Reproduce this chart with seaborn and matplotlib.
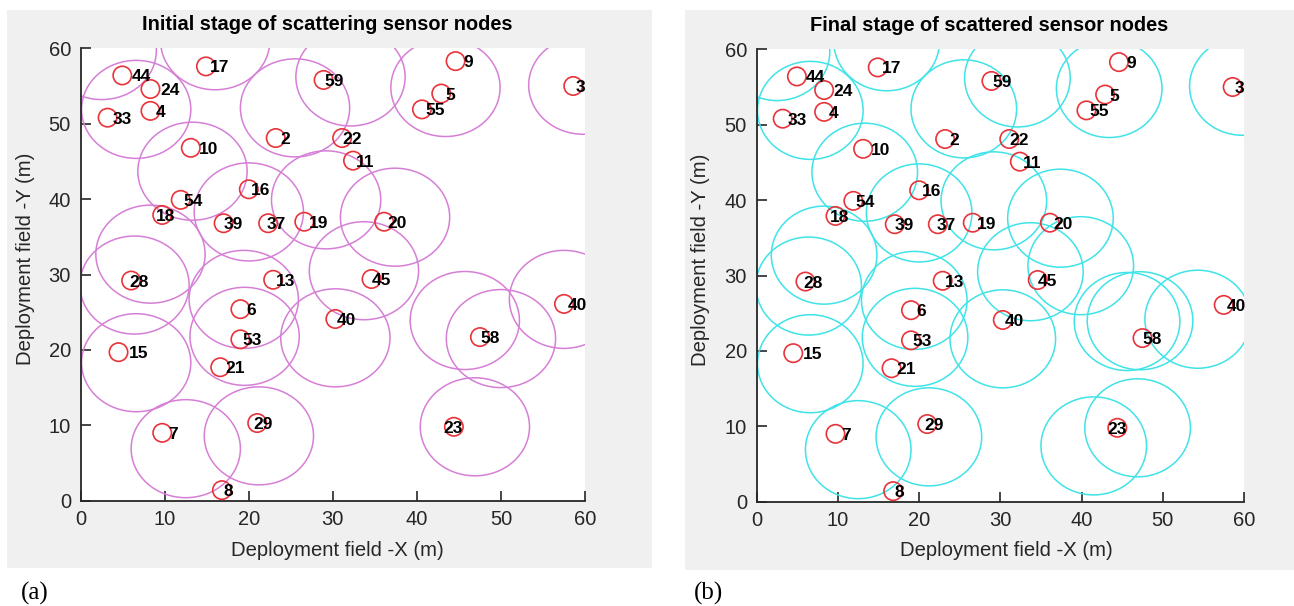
import numpy as np
import pandas as pd
import matplotlib
matplotlib.use("Agg")
import matplotlib.pyplot as plt
import seaborn as sns
from matplotlib.patches import Circle, Rectangle

# ---------------- data ----------------
node_ids = [44, 24, 4, 33, 17, 10, 2, 16, 54, 18, 39, 37, 19, 28, 13, 6, 53, 21, 15, 7,
            29, 8, 59, 9, 5, 55, 3, 22, 11, 20, 45, 40, 40, 58, 23]
node_x = [4.95, 8.3, 8.3, 3.2, 14.9, 13.1, 23.2, 20.0, 11.9, 9.7, 17.0, 22.3, 26.6, 6.0, 22.9,
          19.0, 19.0, 16.6, 4.5, 9.7, 21.0, 16.8, 28.9, 44.6, 42.9, 40.6, 58.6, 31.1, 32.4,
          36.1, 34.6, 30.3, 57.5, 47.5, 44.4]
node_y = [56.4, 54.6, 51.7, 50.8, 57.6, 46.8, 48.1, 41.3, 39.9, 37.9, 36.8, 36.8, 37.0, 29.2, 29.3,
          25.4, 21.4, 17.7, 19.7, 9.0, 10.3, 1.4, 55.8, 58.3, 54.0, 51.9, 55.0, 48.1, 45.1,
          37.0, 29.4, 24.1, 26.1, 21.7, 9.8]

# coverage circles, initial stage
init_cx = [6.6, 2.5, 16.0, 25.5, 32.1, 43.4, 59.8, 13.3, 20.0, 29.2, 37.4, 33.7, 30.3,
           45.7, 50.0, 57.5, 46.9, 8.3, 6.4, 6.6, 19.5, 19.4, 12.5, 21.2]
init_cy = [51.9, 59.7, 61.0, 52.1, 56.2, 54.8, 55.1, 43.7, 38.3, 39.9, 37.6, 30.5, 21.6,
           23.9, 21.5, 26.7, 9.8, 32.7, 28.6, 18.3, 21.8, 26.7, 6.9, 8.6]
# coverage circles, final stage
final_cx = [6.6, 2.5, 16.0, 25.5, 32.1, 43.4, 59.8, 13.3, 20.0, 29.2, 37.4, 39.9, 33.7, 30.3,
            45.6, 47.2, 54.3, 41.5, 46.9, 8.3, 6.4, 6.6, 19.5, 19.4, 12.5, 21.2]
final_cy = [51.9, 59.7, 61.0, 52.1, 56.2, 54.8, 55.1, 43.7, 38.3, 39.9, 37.6, 31.3, 30.5, 21.6,
            23.9, 24.0, 24.2, 7.4, 9.8, 32.7, 28.6, 18.3, 21.8, 26.7, 6.9, 8.6]
coverage_radius = 6.5

titles = ["Initial stage of scattering sensor nodes", "Final stage of scattered sensor nodes"]
xlabel = "Deployment field -X (m)"
ylabel = "Deployment field -Y (m)"
panel_tags = ["(a)", "(b)"]
ticks = [0, 10, 20, 30, 40, 50, 60]

# label placement offsets (styling only), one per node label
label_dx = [1.1, 1.2, 0.6, 0.55, 0.5, 1.0, 0.55, 0.3, 0.3, -0.7, 0.0, -0.2, 0.5, -0.2, 0.3,
            0.7, 0.2, 0.6, 1.2, 0.7, -0.4, 0.2, 0.1, 0.9, 0.55, 0.4, 0.3, 0.0, 0.35,
            0.4, 0.0, 0.2, 0.4, 0.0, -1.2]

# ---------------- style ----------------
sns.set_theme(style="ticks")
plt.rcParams["font.family"] = ["Liberation Sans", "DejaVu Sans"]

W, H = 1294, 606
fig = plt.figure(figsize=(W / 100, H / 100), dpi=100)
fig.patch.set_facecolor("white")

def fx(px):
    return px / W

def fy(py):
    return 1 - py / H

# gray panel backgrounds
fig.patches.append(Rectangle((fx(7), fy(568)), fx(652) - fx(7), fy(10) - fy(568),
                             transform=fig.transFigure, facecolor="#f0f0f0", edgecolor="none", zorder=-10))
fig.patches.append(Rectangle((fx(685), fy(570)), fx(1294) - fx(685), fy(10) - fy(570),
                             transform=fig.transFigure, facecolor="#f0f0f0", edgecolor="none", zorder=-10))

ax1 = fig.add_axes([fx(80.7), fy(500.7), fx(585) - fx(80.7), fy(48.3) - fy(500.7)])
ax2 = fig.add_axes([fx(756.7), fy(501.7), fx(1244) - fx(756.7), fy(49.3) - fy(501.7)])

df = pd.DataFrame({"id": node_ids, "x": node_x, "y": node_y})
node_red = "#e8333a"
dark = "#262626"

panels = [
    (ax1, init_cx, init_cy, "#d67fd6", titles[0], 0.489, 0.509, -0.110),
    (ax2, final_cx, final_cy, "#3fe3e8", titles[1], 0.477, 0.513, -0.116),
]

for ax, cx, cy, ccol, title, tx, xlx, ylx in panels:
    ax.set_facecolor("white")
    for x, y in zip(cx, cy):
        ax.add_patch(Circle((x, y), coverage_radius, fill=False, edgecolor=ccol,
                            linewidth=1.1, zorder=2))
    sns.scatterplot(data=df, x="x", y="y", ax=ax, marker="o", s=175, legend=False, zorder=3)
    coll = ax.collections[-1]
    coll.set_facecolor("none")
    coll.set_edgecolor(node_red)
    coll.set_linewidth(1.2)
    for i, x, y, dx in zip(df["id"], df["x"], df["y"], label_dx):
        ax.text(x + dx, y - 0.2, str(i), fontsize=12.5, fontweight="bold", color="black",
                ha="left", va="center", zorder=4)
    ax.set_xlim(0, 60)
    ax.set_ylim(0, 60)
    ax.set_xticks(ticks)
    ax.set_yticks(ticks)
    ax.tick_params(direction="in", length=7, width=1.2, color=dark, labelsize=14.5,
                   labelcolor=dark, pad=7)
    sns.despine(ax=ax)
    for sp in ["left", "bottom"]:
        ax.spines[sp].set_color(dark)
        ax.spines[sp].set_linewidth(1.3)
    ax.set_title(title, fontsize=14.4, fontweight="bold", color="black", x=tx, pad=13)
    ax.set_xlabel(xlabel, fontsize=14.6, color=dark)
    ax.set_ylabel(ylabel, fontsize=14.6, color=dark)
    ax.xaxis.set_label_coords(xlx, -(550 - 500.7) / 452.4)
    ax.xaxis.label.set_va("center")
    ax.yaxis.set_label_coords(ylx, 0.534)
    ax.yaxis.label.set_va("center")

fig.text(fx(21), fy(593), panel_tags[0], fontsize=18, family=["Liberation Serif", "DejaVu Serif"],
         ha="left", va="center", color="black")
fig.text(fx(694), fy(593), panel_tags[1], fontsize=18, family=["Liberation Serif", "DejaVu Serif"],
         ha="left", va="center", color="black")

fig.savefig("out.png", dpi=100, facecolor="white")
